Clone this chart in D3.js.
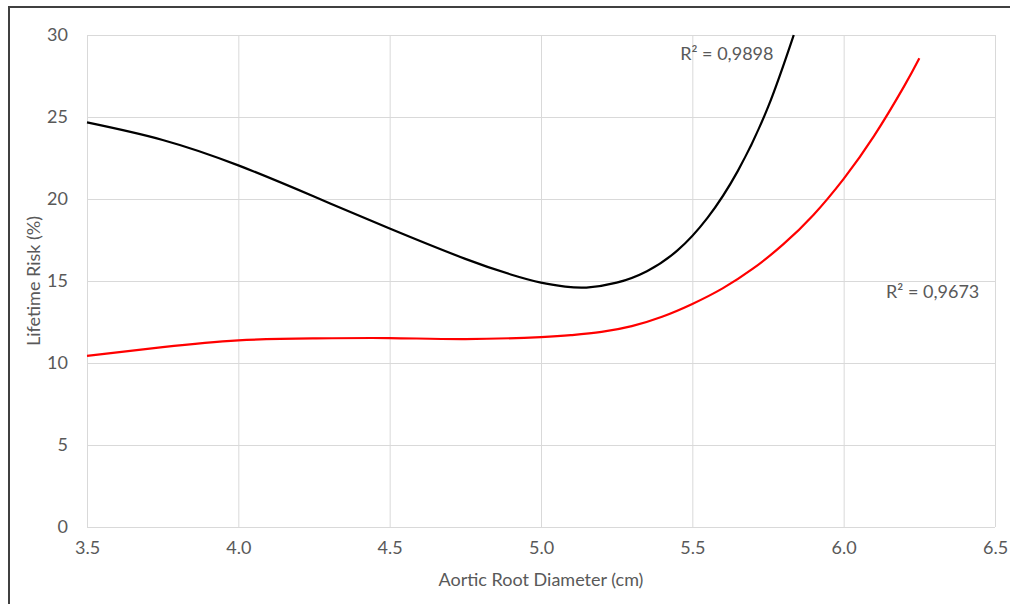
<!DOCTYPE html>
<html>
<head>
<meta charset="utf-8">
<script src="https://cdn.jsdelivr.net/npm/d3@7"></script>
<style>
  body { margin: 0; background: #fff; }
  svg { display: block; }
  text { font-family: Lato, "Open Sans", sans-serif; fill: #595959; }
</style>
</head>
<body>
<svg id="chart" width="1010" height="604"></svg>
<script>
// values
const xTicks = [3.5, 4.0, 4.5, 5.0, 5.5, 6.0, 6.5];
const yTicks = [0, 5, 10, 15, 20, 25, 30];

const blackX = [3.5, 3.75, 4.0, 4.25, 4.5, 4.75, 4.9, 5.0, 5.08, 5.15, 5.25, 5.35, 5.45, 5.55, 5.65, 5.75, 5.835];
const blackY = [24.67, 23.6, 22.05, 20.15, 18.2, 16.35, 15.4, 14.9, 14.66, 14.6, 14.9, 15.6, 16.85, 18.85, 21.7, 25.6, 30.0];

const redX = [3.5, 3.75, 4.0, 4.25, 4.5, 4.75, 5.0, 5.1, 5.2, 5.3, 5.4, 5.5, 5.6, 5.7, 5.8, 5.9, 6.0, 6.1, 6.2, 6.25];
const redY = [10.44, 10.97, 11.38, 11.5, 11.52, 11.46, 11.58, 11.7, 11.9, 12.25, 12.82, 13.6, 14.55, 15.75, 17.23, 19.03, 21.23, 23.83, 26.88, 28.58];

const labels = [
    {text: "R² = 0,9898", x: 5.46, y: 28.45},
    {text: "R² = 0,9673", x: 6.14, y: 13.95}
];

const svg = d3.select("#chart");
const margin = {top: 35, left: 87, bottom: 77, right: 15};
const width = +svg.attr("width");
const height = +svg.attr("height");

// outer frame, runs off the right and bottom edge
svg.append("rect")
    .attr("x", 9).attr("y", 7)
    .attr("width", 1040).attr("height", 640)
    .attr("fill", "none")
    .attr("stroke", "#404040")
    .attr("stroke-width", 2);

const x = d3.scaleLinear()
    .domain([3.5, 6.5])
    .range([margin.left, width - margin.right]);

const y = d3.scaleLinear()
    .domain([0, 30])
    .range([height - margin.bottom, margin.top]);

// grid + tick labels
svg.append("g")
    .attr("class", "x-axis")
    .attr("transform", `translate(0,${height - margin.bottom})`)
    .call(d3.axisBottom(x).tickValues(xTicks).tickFormat(d3.format(".1f"))
        .tickSize(-(height - margin.bottom - margin.top)).tickPadding(14));

svg.append("g")
    .attr("class", "y-axis")
    .attr("transform", `translate(${margin.left},0)`)
    .call(d3.axisLeft(y).tickValues(yTicks)
        .tickSize(-(width - margin.right - margin.left)).tickPadding(19));

svg.selectAll(".x-axis .domain, .y-axis .domain").remove();
svg.selectAll(".tick line").attr("stroke", "#d9d9d9").attr("stroke-width", 1);
svg.selectAll(".tick text")
    .attr("font-family", "Lato, 'Open Sans', sans-serif")
    .attr("font-size", 18)
    .attr("fill", "#595959");

// axis titles
svg.append("text")
    .attr("x", (x.range()[0] + x.range()[1]) / 2)
    .attr("y", 586)
    .attr("text-anchor", "middle")
    .attr("font-size", 18)
    .text("Aortic Root Diameter (cm)");

svg.append("text")
    .attr("transform", `translate(40,${(y.range()[0] + y.range()[1]) / 2}) rotate(-90)`)
    .attr("text-anchor", "middle")
    .attr("font-size", 18)
    .text("Lifetime Risk (%)");

// trend lines
const line = d3.line()
    .x(d => x(d[0]))
    .y(d => y(d[1]))
    .curve(d3.curveNatural);

const series = [
    {color: "#000000", pts: d3.zip(blackX, blackY)},
    {color: "#ff0000", pts: d3.zip(redX, redY)}
];

svg.selectAll("path.trend")
    .data(series)
    .enter().append("path")
    .attr("class", "trend")
    .attr("fill", "none")
    .attr("stroke", d => d.color)
    .attr("stroke-width", 2.2)
    .attr("d", d => line(d.pts));

svg.selectAll("text.r2")
    .data(labels)
    .enter().append("text")
    .attr("class", "r2")
    .attr("x", d => x(d.x))
    .attr("y", d => y(d.y))
    .attr("font-size", 18)
    .text(d => d.text);
</script>
</body>
</html>
